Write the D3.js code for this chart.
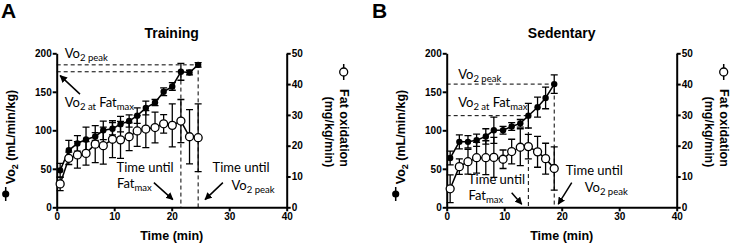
<!DOCTYPE html>
<html>
<head>
<meta charset="utf-8">
<script src="https://cdn.jsdelivr.net/npm/d3@7"></script>
<style>
  body { margin: 0; background: #fff; }
  text { font-family: "Liberation Sans", Arial, sans-serif; }
  .axis path, .axis line { stroke: #000; stroke-width: 2; }
  .axis text { font-size: 10px; font-weight: bold; fill: #000; }
  .note { font-family: Lato, "Open Sans", sans-serif; font-size: 13px; }
</style>
</head>
<body>
<div id="chart"></div>
<script>
// Panel A: training group
const timeA = [0.6, 2.1, 3.6, 5.1, 6.7, 8.1, 9.7, 11.1, 12.6, 14.0, 15.5, 17.1, 18.6, 20.1, 21.6, 23.1, 24.6];
const vo2A = [48, 74, 83, 88, 92, 100, 102, 108, 112, 119, 129, 136, 150, 157, 176, 175, 185];
const vo2ErrA = [9, 13, 10, 16, 5, 12, 8, 10, 8, 10, 9, 4, 5, 5, 11, 3, 3];
const fatA = [7.6, 15.9, 17.0, 17.5, 20.5, 20.0, 22.1, 21.9, 22.9, 24.8, 25.4, 25.9, 27.1, 26.6, 28.0, 22.9, 22.6];
const fatErrA = [2.2, 2, 4.3, 3.8, 6, 6, 6, 6, 4.5, 5, 6, 5, 3, 7, 7, 8.8, 11];

// Panel B: sedentary group
const timeB = [0.6, 2.2, 3.7, 5.2, 6.8, 8.2, 9.8, 11.3, 12.8, 14.2, 15.8, 17.2, 18.7];
const vo2B = [64, 85, 85, 87, 92, 100, 100, 105, 109, 119, 130, 142, 160];
const vo2ErrB = [9, 9, 8, 8, 10, 17, 5, 5, 5, 16, 13, 14, 12];
const fatB = [6, 13.2, 14.8, 16.1, 16.1, 16.2, 15.6, 18.1, 19.5, 19.7, 18.0, 15.8, 12.6];
const fatErrB = [4.5, 2.5, 4, 5, 5.5, 6.5, 3, 4, 6, 4, 5, 5, 7];

const xTicks = [0, 10, 20, 30, 40];
const vo2Ticks = [0, 50, 100, 150, 200];
const fatTicks = [0, 10, 20, 30, 40, 50];

// annotations in data units (time, vo2)
const notesA = [
  { t: 1.4, v: 194, parts: [["Vo", 0], ["2 peak", 1]] },
  { t: 1.4, v: 130, parts: [["Vo", 0], ["2 at", 1], [" Fat", 0], ["max", 1]] },
  { t: 10.4, v: 46, parts: [["Time until", 0]] },
  { t: 10.5, v: 25, parts: [["Fat", 0], ["max", 1]] },
  { t: 27.1, v: 46, parts: [["Time until", 0]] },
  { t: 30.4, v: 22, parts: [["Vo", 0], ["2 peak", 1]] }
];
const arrowsA = [[4.05, 147, 0.6, 171], [16.9, 32, 20.2, 10], [28.9, 32, 25.8, 10]];

const notesB = [
  { t: 2.0, v: 167, parts: [["Vo", 0], ["2 peak", 1]] },
  { t: 2.0, v: 130, parts: [["Vo", 0], ["2 at", 1], [" Fat", 0], ["max", 1]] },
  { t: 3.7, v: 30, parts: [["Time until", 0]] },
  { t: 3.8, v: 9, parts: [["Fat", 0], ["max", 1]] },
  { t: 20.7, v: 42, parts: [["Time until", 0]] },
  { t: 24.0, v: 20, parts: [["Vo", 0], ["2 peak", 1]] }
];
const arrowsB = [[11.3, 19, 13.05, 4], [21.75, 32, 19.4, 4]];

const width = 740, height = 245;
const svg = d3.select("#chart").append("svg")
  .attr("width", width).attr("height", height);

svg.append("defs").append("marker")
  .attr("id", "head")
  .attr("viewBox", "0 0 10 10")
  .attr("refX", 9).attr("refY", 5)
  .attr("markerWidth", 5).attr("markerHeight", 5)
  .attr("orient", "auto")
  .append("path").attr("d", "M0,0L10,5L0,10z").attr("fill", "#000");

function panel(cfg) {
  const top = 53.3, bottom = 207.3;
  const x = d3.scaleLinear().domain([0, 40]).range([cfg.left, cfg.left + 230]);
  const y = d3.scaleLinear().domain([0, 200]).range([bottom, top]);
  const yf = d3.scaleLinear().domain([0, 50]).range([bottom, top]);
  const g = svg.append("g");

  // panel letter + title
  g.append("text").attr("x", cfg.letterX).attr("y", 18)
    .attr("font-size", 21).attr("font-weight", "bold").text(cfg.letter);
  g.append("text").attr("x", x(20)).attr("y", 38).attr("text-anchor", "middle")
    .attr("font-size", 14).attr("font-weight", "bold").text(cfg.title);

  // axes
  g.append("g").attr("class", "axis").attr("transform", `translate(0,${bottom})`)
    .call(d3.axisBottom(x).tickValues(xTicks).tickSize(4).tickPadding(2).tickSizeOuter(0));
  g.append("g").attr("class", "axis").attr("transform", `translate(${cfg.left},0)`)
    .call(d3.axisLeft(y).tickValues(vo2Ticks).tickSize(4).tickPadding(1).tickSizeOuter(0));
  g.append("g").attr("class", "axis").attr("transform", `translate(${cfg.left + 230},0)`)
    .call(d3.axisRight(yf).tickValues(fatTicks).tickSize(4).tickPadding(1).tickSizeOuter(0));

  // axis titles
  g.append("text").attr("x", x(20)).attr("y", 240).attr("text-anchor", "middle")
    .attr("font-size", 12.5).attr("font-weight", "bold").text("Time (min)");

  const ly = g.append("text").attr("transform", `translate(${cfg.left - 42},137) rotate(-90)`)
    .attr("text-anchor", "middle").attr("font-size", 12.5).attr("font-weight", "bold");
  ly.append("tspan").text("Vo");
  ly.append("tspan").attr("dy", 3).attr("font-size", 9).text("2");
  ly.append("tspan").attr("dy", -3).text(" (mL/min/kg)");
  const sx = cfg.left - 51;
  g.append("line").attr("x1", sx).attr("x2", sx).attr("y1", 187).attr("y2", 201)
    .attr("stroke", "#000").attr("stroke-width", 1.5);
  g.append("circle").attr("cx", sx).attr("cy", 194).attr("r", 3.6).attr("fill", "#000");

  const rx = cfg.left + 230 + cfg.rightGap;
  g.append("text").attr("transform", `translate(${rx},128) rotate(90)`)
    .attr("text-anchor", "middle").attr("font-size", 12.5).attr("font-weight", "bold")
    .text("Fat oxidation");
  g.append("text").attr("transform", `translate(${rx - 15},132) rotate(90)`)
    .attr("text-anchor", "middle").attr("font-size", 12.5).attr("font-weight", "bold")
    .text("(mg/kg/min)");
  g.append("line").attr("x1", rx + 4).attr("x2", rx + 4).attr("y1", 64).attr("y2", 80)
    .attr("stroke", "#000").attr("stroke-width", 1.5);
  g.append("circle").attr("cx", rx + 4).attr("cy", 72).attr("r", 4)
    .attr("fill", "#fff").attr("stroke", "#000").attr("stroke-width", 1.3);

  // reference dashed lines (fat max and VO2 peak)
  const iMax = d3.maxIndex(cfg.fat);
  const iPeak = cfg.vo2.length - 1;
  [iMax, iPeak].forEach(i => {
    g.append("path")
      .attr("d", `M${x(0)},${y(cfg.vo2[i])}H${x(cfg.time[i])}V${y(0)}`)
      .attr("fill", "none").attr("stroke", "#000").attr("stroke-width", 1)
      .attr("stroke-dasharray", "4,3");
  });

  // series
  const pts = cfg.time.map((t, i) => ({ t, v: cfg.vo2[i], ve: cfg.vo2Err[i], f: cfg.fat[i], fe: cfg.fatErr[i] }));

  function errBars(val, err, sc) {
    const eg = g.append("g").attr("stroke", "#000").attr("stroke-width", 1.3);
    eg.selectAll("path").data(pts).join("path")
      .attr("d", d => {
        const xx = x(d.t), hi = sc(d[val] + d[err]), lo = sc(d[val] - d[err]);
        return `M${xx},${hi}V${lo}M${xx - 3.5},${hi}h7M${xx - 3.5},${lo}h7`;
      });
  }
  errBars("f", "fe", yf);
  errBars("v", "ve", y);

  g.append("path").datum(pts)
    .attr("d", d3.line().x(d => x(d.t)).y(d => yf(d.f)))
    .attr("fill", "none").attr("stroke", "#000").attr("stroke-width", 1.5);
  g.append("path").datum(pts)
    .attr("d", d3.line().x(d => x(d.t)).y(d => y(d.v)))
    .attr("fill", "none").attr("stroke", "#000").attr("stroke-width", 1.5);

  g.append("g").selectAll("circle").data(pts).join("circle")
    .attr("cx", d => x(d.t)).attr("cy", d => yf(d.f)).attr("r", 4)
    .attr("fill", "#fff").attr("stroke", "#000").attr("stroke-width", 1.3);
  g.append("g").selectAll("circle").data(pts).join("circle")
    .attr("cx", d => x(d.t)).attr("cy", d => y(d.v)).attr("r", 3.2)
    .attr("fill", "#000");

  // annotations
  cfg.notes.forEach(n => {
    const tx = g.append("text").attr("class", "note").attr("x", x(n.t)).attr("y", y(n.v));
    let sub = 0;
    n.parts.forEach(([s, isSub]) => {
      const dy = isSub && !sub ? 3 : (!isSub && sub ? -3 : 0);
      tx.append("tspan").attr("dy", dy).attr("font-size", isSub ? 9.5 : 13).text(s);
      sub = isSub;
    });
  });
  cfg.arrows.forEach(a => {
    g.append("line")
      .attr("x1", x(a[0])).attr("y1", y(a[1])).attr("x2", x(a[2])).attr("y2", y(a[3]))
      .attr("stroke", "#000").attr("stroke-width", 1.5).attr("marker-end", "url(#head)");
  });
}

panel({ left: 56.7, letter: "A", letterX: 1, title: "Training", rightGap: 53,
  time: timeA, vo2: vo2A, vo2Err: vo2ErrA, fat: fatA, fatErr: fatErrA, notes: notesA, arrows: arrowsA });
panel({ left: 446.7, letter: "B", letterX: 372, title: "Sedentary", rightGap: 43,
  time: timeB, vo2: vo2B, vo2Err: vo2ErrB, fat: fatB, fatErr: fatErrB, notes: notesB, arrows: arrowsB });
</script>
</body>
</html>
